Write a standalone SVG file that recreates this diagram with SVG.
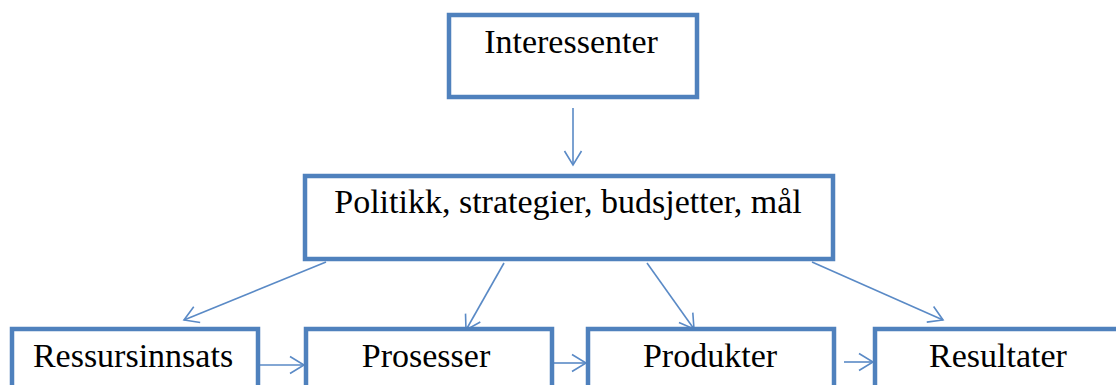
<svg xmlns="http://www.w3.org/2000/svg" width="1116" height="385" viewBox="0 0 1116 385">
<defs>
<style>
.box{fill:#fff;stroke:#4F81BD;stroke-width:4.5}
.lbl{font-family:"Liberation Serif","Times New Roman",serif;font-size:34px;fill:#000;text-anchor:middle}
.con{stroke:#5A8AC6;stroke-width:1.6;fill:none}
</style>
<marker id="ah" markerUnits="userSpaceOnUse" markerWidth="20" markerHeight="20" viewBox="-15 -10 16 20" refX="0" refY="0" orient="auto">
<path d="M-14,-8.5 L0,0 L-14,8.5" fill="none" stroke="#5A8AC6" stroke-width="1.6"/>
</marker>
</defs>
<rect width="1116" height="385" fill="#fff"/>
<g id="connectors">
<line class="con" x1="573" y1="108" x2="573" y2="165" marker-end="url(#ah)"/>
<line class="con" x1="326" y1="262" x2="184" y2="320" marker-end="url(#ah)"/>
<line class="con" x1="504" y1="263" x2="466" y2="330" marker-end="url(#ah)"/>
<line class="con" x1="647" y1="263" x2="694" y2="329" marker-end="url(#ah)"/>
<line class="con" x1="812" y1="262" x2="943" y2="320" marker-end="url(#ah)"/>
<line class="con" x1="260" y1="365" x2="304" y2="365" marker-end="url(#ah)"/>
<line class="con" x1="554" y1="363" x2="586" y2="363" marker-end="url(#ah)"/>
<line class="con" x1="844" y1="362" x2="873" y2="362" marker-end="url(#ah)"/>
</g>
<g id="interessenter">
<rect class="box" x="449" y="15" width="248" height="82"/>
<text class="lbl" x="571" y="53">Interessenter</text>
</g>
<g id="politikk">
<rect class="box" x="305" y="176" width="528" height="83"/>
<text class="lbl" x="568" y="213">Politikk, strategier, budsjetter, mål</text>
</g>
<g id="ressursinnsats">
<rect class="box" x="12" y="329" width="246" height="83"/>
<text class="lbl" x="133" y="367">Ressursinnsats</text>
</g>
<g id="prosesser">
<rect class="box" x="306" y="329" width="246" height="83"/>
<text class="lbl" x="426" y="367">Prosesser</text>
</g>
<g id="produkter">
<rect class="box" x="588" y="329" width="246" height="83"/>
<text class="lbl" x="710" y="367">Produkter</text>
</g>
<g id="resultater">
<rect class="box" x="875" y="329" width="246" height="83"/>
<text class="lbl" x="998" y="367">Resultater</text>
</g>
</svg>
